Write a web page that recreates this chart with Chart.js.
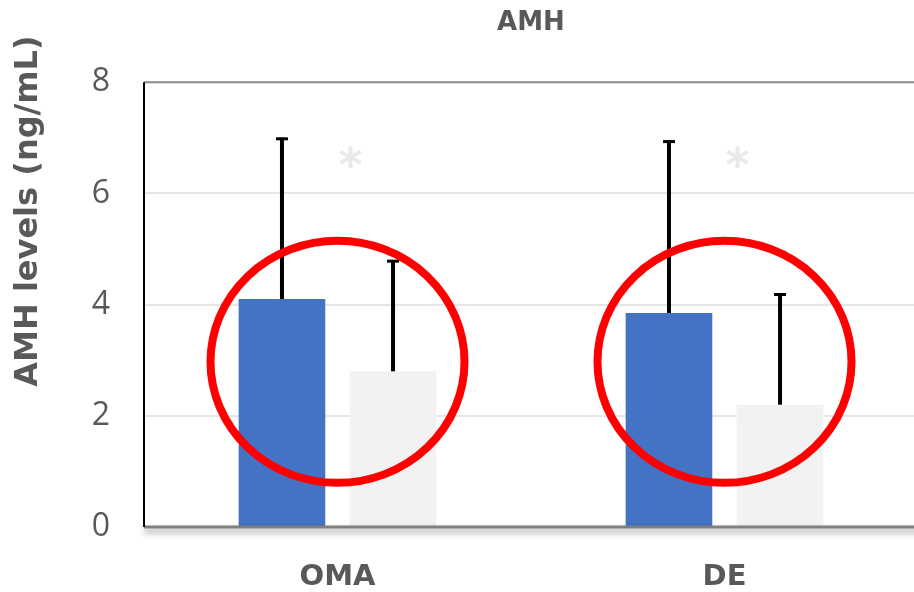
<!DOCTYPE html>
<html>
<head>
<meta charset="utf-8">
<script src="https://cdn.jsdelivr.net/npm/chart.js@4"></script>
<style>
  html, body { margin: 0; padding: 0; background: #fff; overflow: hidden; }
  #wrap { width: 920px; height: 592px; }
</style>
</head>
<body>
<div id="wrap"><canvas id="graficoAMH"></canvas></div>
<script>
const categories = ['OMA', 'DE'];
const serieAzul = [4.1, 3.85];
const erroAzul = [2.9, 3.1];
const serieCinza = [2.8, 2.2];
const erroCinza = [2.0, 2.0];
const yTicks = [0, 2, 4, 6, 8];
const asteriscoY = [6.6, 6.6];
const circuloY = [2.97, 2.97];

const cinzaTexto = '#595959';

// error bars, circles, asterisks, frame and y title
const extras = {
  id: 'extras',
  afterDatasetsDraw(chart) {
    const ctx = chart.ctx;
    const y = chart.scales.y;
    const x = chart.scales.x;
    const area = chart.chartArea;

    // error bars
    [erroAzul, erroCinza].forEach((erros, di) => {
      const meta = chart.getDatasetMeta(di);
      const valores = chart.data.datasets[di].data;
      meta.data.forEach((bar, i) => {
        const topo = y.getPixelForValue(valores[i] + erros[i]);
        ctx.save();
        ctx.strokeStyle = '#000';
        ctx.lineWidth = 4;
        ctx.beginPath();
        ctx.moveTo(bar.x, bar.y);
        ctx.lineTo(bar.x, topo);
        ctx.stroke();
        ctx.lineWidth = 3;
        ctx.beginPath();
        ctx.moveTo(bar.x - 6, topo + 1);
        ctx.lineTo(bar.x + 6, topo + 1);
        ctx.stroke();
        ctx.restore();
      });
    });

    // frame: top line, bottom axis with shadow
    ctx.save();
    ctx.strokeStyle = '#8a8a8a';
    ctx.lineWidth = 2;
    ctx.beginPath();
    ctx.moveTo(area.left, area.top);
    ctx.lineTo(area.right + 10, area.top);
    ctx.stroke();
    ctx.shadowColor = 'rgba(0,0,0,0.45)';
    ctx.shadowBlur = 6;
    ctx.shadowOffsetY = 4;
    ctx.strokeStyle = '#808080';
    ctx.lineWidth = 3;
    ctx.beginPath();
    ctx.moveTo(area.left, area.bottom);
    ctx.lineTo(area.right + 10, area.bottom);
    ctx.stroke();
    ctx.restore();

    ctx.save();
    ctx.strokeStyle = '#000';
    ctx.lineWidth = 2;
    ctx.beginPath();
    ctx.moveTo(area.left, area.top);
    ctx.lineTo(area.left, area.bottom);
    ctx.stroke();
    ctx.restore();

    // asterisks
    ctx.save();
    ctx.fillStyle = '#e9e9e9';
    ctx.font = 'bold 46px "DejaVu Sans"';
    ctx.textAlign = 'center';
    ctx.textBaseline = 'middle';
    categories.forEach((c, i) => {
      ctx.fillText('*', x.getPixelForValue(i) + 13, y.getPixelForValue(asteriscoY[i]) + 9);
    });
    ctx.restore();

    // red circles
    ctx.save();
    ctx.strokeStyle = '#ff0000';
    ctx.lineWidth = 8;
    categories.forEach((c, i) => {
      ctx.beginPath();
      ctx.ellipse(x.getPixelForValue(i), y.getPixelForValue(circuloY[i]), 127, 121, 0, 0, Math.PI * 2);
      ctx.stroke();
    });
    ctx.restore();

    // y axis title
    ctx.save();
    ctx.translate(29, 211);
    ctx.rotate(-Math.PI / 2);
    ctx.fillStyle = cinzaTexto;
    ctx.font = 'bold 32px "DejaVu Sans"';
    ctx.textAlign = 'center';
    ctx.textBaseline = 'middle';
    ctx.fillText('AMH levels (ng/mL)', 0, 0);
    ctx.restore();
  }
};

const ctx = document.getElementById('graficoAMH').getContext('2d');
const graficoAMH = new Chart(ctx, {
  type: 'bar',
  data: {
    labels: categories,
    datasets: [
      { label: 'A', data: serieAzul, backgroundColor: '#4472C4' },
      { label: 'B', data: serieCinza, backgroundColor: '#F2F2F2' }
    ]
  },
  options: {
    responsive: true,
    maintainAspectRatio: false,
    animation: false,
    devicePixelRatio: 1,
    barPercentage: 0.78,
    categoryPercentage: 0.574,
    layout: { padding: { left: 0, right: 2, top: 0, bottom: 0 } },
    plugins: {
      legend: { display: false },
      tooltip: { enabled: false },
      title: {
        display: true,
        text: 'AMH',
        fullSize: false,
        color: cinzaTexto,
        font: { family: 'DejaVu Sans', size: 26, weight: 'bold' },
        padding: { top: 8, bottom: 43 }
      }
    },
    scales: {
      x: {
        grid: { display: false, drawTicks: false },
        border: { display: false },
        ticks: {
          color: cinzaTexto,
          padding: 33,
          font: { family: 'DejaVu Sans', size: 29, weight: 'bold' }
        },
        afterFit(scale) { scale.height = 65; }
      },
      y: {
        min: yTicks[0],
        max: yTicks[yTicks.length - 1],
        afterBuildTicks(scale) { scale.ticks = yTicks.map(v => ({ value: v })); },
        grid: {
          drawTicks: false,
          lineWidth: 2,
          color: c => (c.tick.value === yTicks[0] || c.tick.value === yTicks[yTicks.length - 1]) ? 'rgba(0,0,0,0)' : '#e6e6e6'
        },
        border: { display: false },
        ticks: {
          color: cinzaTexto,
          padding: 34,
          font: { family: 'Open Sans', size: 32 }
        },
        afterFit(scale) { scale.width = 144; }
      }
    }
  },
  plugins: [extras]
});
</script>
</body>
</html>
